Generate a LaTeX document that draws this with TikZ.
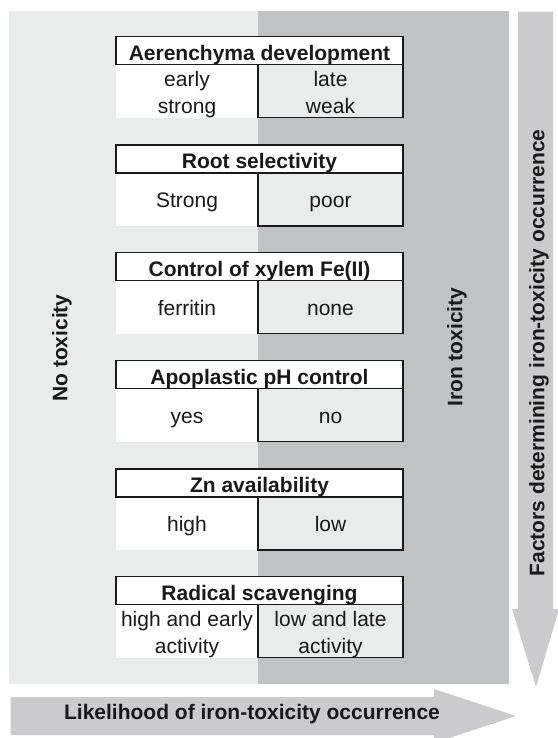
\documentclass[tikz,border=0pt]{standalone}
\usepackage{fontspec}
\setmainfont{Liberation Sans}
\definecolor{lightbg}{RGB}{234,235,235}
\definecolor{darkbg}{RGB}{193,194,196}
\definecolor{arrowgray}{RGB}{203,203,205}
\definecolor{cellgray}{RGB}{234,235,235}
\definecolor{inkcol}{RGB}{25,25,25}

% #1 top, #2 id, #3 header text
\newcommand\tbframe[3]{%
  \fill[white] (116,{#1+28}) rectangle (258,{#1+81});
  \draw[tline,fill=cellgray] (258,{#1+28}) -- (258,{#1+81}) -- (403,{#1+81}) -- (403,{#1+28});
  \node[hdrbox] (#2box) at (259.5,{#1+14}) {};
  \node[hdrtext] (#2hd) at (259.5,{#1+23.5}) {#3};
}
% one-line cells: #1 top, #2 id, #3 left, #4 right
\newcommand\tbone[4]{%
  \node[celltext] (#2l) at (187,{#1+62.5}) {#3};
  \node[celltext] (#2r) at (330.5,{#1+62.5}) {#4};
}
% two-line cells: #1 top, #2 id, #3/#4 left lines, #5/#6 right lines
\newcommand\tbtwo[6]{%
  \node[celltext] (#2la) at (187,{#1+50}) {#3};
  \node[celltext] (#2lb) at (187,{#1+76.5}) {#4};
  \node[celltext] (#2ra) at (330.5,{#1+50}) {#5};
  \node[celltext] (#2rb) at (330.5,{#1+76.5}) {#6};
}

\begin{document}
\begin{tikzpicture}[x=1pt,y=-1pt,
  tline/.style={draw=inkcol,line width=1.4pt},
  hdrbox/.style={draw=inkcol,line width=1.5pt,fill=white,minimum width=287pt,minimum height=28pt,inner sep=0pt,rectangle},
  hdrtext/.style={anchor=base,inner sep=0pt,text=inkcol,font=\fontsize{21}{25}\selectfont\bfseries},
  celltext/.style={anchor=base,inner sep=0pt,text=inkcol,font=\fontsize{21}{25}\selectfont},
  sidetext/.style={rotate=90,inner sep=0pt,text=inkcol,font=\fontsize{21}{25}\selectfont\bfseries},
  bigarrow/.style={fill=arrowgray,draw=none}]
\useasboundingbox (0,0) rectangle (557,738);
\fill[white] (0,0) rectangle (557,738);

% background zones
\fill[lightbg] (9,10.7) rectangle (258,684);
\fill[darkbg] (258,10.7) rectangle (509,684);

% vertical arrow
\fill[bigarrow] (518,11.7) -- (553,11.7) -- (553,609) -- (559,609) -- (536,687) -- (512,609) -- (518,609) -- cycle;
% horizontal arrow
\fill[bigarrow] (10.7,697) -- (434,697) -- (434,689) -- (516,716) -- (434,743) -- (434,735) -- (10.7,735) -- cycle;

% blocks
\tbframe{36.7}{aer}{Aerenchyma development}
\tbtwo{36.7}{aer}{early}{strong}{late}{weak}

\tbframe{145}{root}{Root selectivity}
\tbone{145}{root}{Strong}{poor}

\tbframe{252.7}{xyl}{Control of xylem Fe(II)}
\tbone{252.7}{xyl}{ferritin}{none}

\tbframe{360.7}{apo}{Apoplastic pH control}
\tbone{360.7}{apo}{yes}{no}

\tbframe{469}{zn}{Zn availability}
\tbone{469}{zn}{high}{low}

\tbframe{576.7}{rad}{Radical scavenging}
\tbtwo{576.7}{rad}{high and early}{activity}{low and late}{activity}

% side labels
\node[sidetext] (notox) at (62,348) {No toxicity};
\node[sidetext] (irontox) at (457,347) {Iron toxicity};
\node[sidetext] (factors) at (539,353) {Factors determining iron-toxicity occurrence};
\node[inner sep=0pt,text=inkcol,font=\fontsize{21}{25}\selectfont\bfseries] (likely) at (252,714) {Likelihood of iron-toxicity occurrence};
\end{tikzpicture}
\end{document}
